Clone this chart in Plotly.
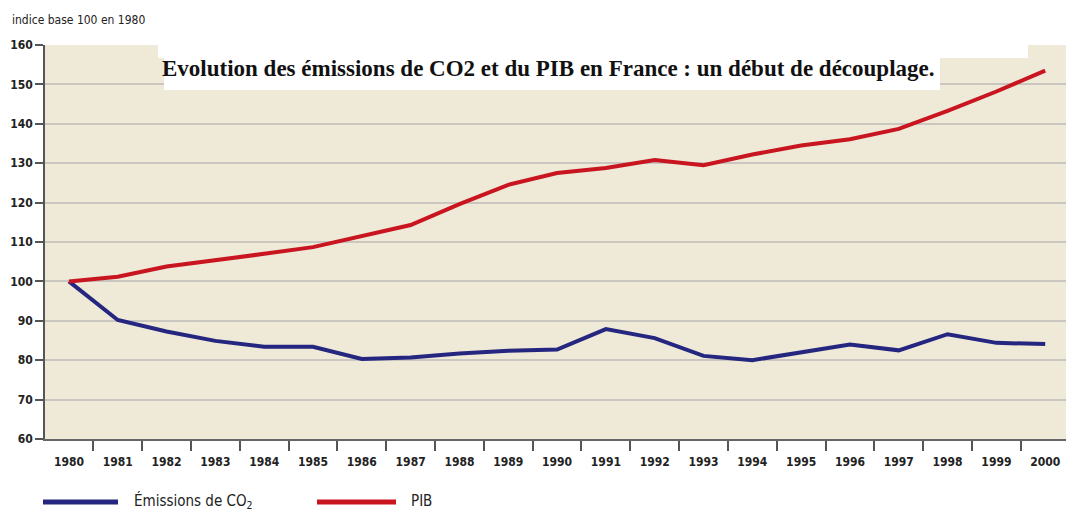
import plotly.graph_objects as go

years = [str(y) for y in range(1980, 2001)]
co2 = [100, 90.2, 87.3, 84.9, 83.4, 83.4, 80.3, 80.7, 81.7, 82.4, 82.7,
       87.9, 85.6, 81.1, 80.0, 81.9, 84.0, 82.5, 86.6, 84.4, 84.1]
pib = [100, 101.2, 103.8, 105.3, 107.0, 108.7, 111.4, 114.3, 119.6, 124.5, 127.5,
       128.8, 130.8, 129.5, 132.2, 134.5, 136.1, 138.7, 143.3, 148.2, 153.5]
y_ticks = [60, 70, 80, 90, 100, 110, 120, 130, 140, 150, 160]

title_text = "Evolution des émissions de CO2 et du PIB en France : un début de découplage."
y_title = "indice base 100 en 1980"
legend_co2 = "Émissions de CO<sub>2</sub>"
legend_pib = "PIB"

BLUE = "#25267F"
RED = "#C8151F"
OFF = 8  # page body margin
W, H = 1074 - OFF, 512 - OFF
# target page pixel positions of plot area
PL, PR, PT, PB = 45, 1074, 45, 439
L, T = PL - OFF, PT - OFF
R = W - (PR - OFF)
B = H - (PB - OFF)
pw, ph = PR - PL, PB - PT

def px(x):
    return (x - PL) / pw

def py(y):
    return (PB - y) / ph

fig = go.Figure()
fig.add_trace(go.Scatter(x=years, y=co2, mode="lines", name="CO2",
                         line=dict(color=BLUE, width=4), showlegend=False))
fig.add_trace(go.Scatter(x=years, y=pib, mode="lines", name="PIB",
                         line=dict(color=RED, width=4), showlegend=False))

FAM = "DejaVu Sans Condensed, Liberation Sans Narrow, sans-serif"
tick_font = dict(family=FAM, size=12, color="#222222", weight="bold")

fig.update_layout(
    width=W, height=H,
    margin=dict(l=L, r=R, t=T, b=B),
    paper_bgcolor="white",
    plot_bgcolor="#EFE9D8",
    showlegend=False,
    xaxis=dict(
        type="category",
        range=[-0.49, 20.59],
        tickson="boundaries",
        ticks="outside", ticklen=10, tickwidth=1.5, tickcolor="#555555",
        ticklabelstandoff=11,
        showgrid=False, zeroline=False,
        showline=True, linecolor="#666666", linewidth=1.5,
        tickfont=tick_font,
    ),
    yaxis=dict(
        range=[60, 160],
        tickvals=y_ticks,
        ticks="outside", ticklen=8, tickwidth=1.5, tickcolor="#555555",
        showgrid=True, gridcolor="#C9C7C0", gridwidth=1.5,
        zeroline=False,
        showline=True, linecolor="#555555", linewidth=1.5,
        tickfont=tick_font,
    ),
    shapes=[
        dict(type="rect", xref="paper", yref="paper",
             x0=px(158), x1=px(1028), y0=py(58), y1=py(44),
             fillcolor="white", line=dict(width=0), layer="above"),
        dict(type="rect", xref="paper", yref="paper",
             x0=px(164), x1=px(940), y0=py(90), y1=py(44),
             fillcolor="white", line=dict(width=0), layer="above"),
        dict(type="line", xref="paper", yref="paper",
             x0=px(43), x1=px(118), y0=py(502), y1=py(502),
             line=dict(color=BLUE, width=5)),
        dict(type="line", xref="paper", yref="paper",
             x0=px(317), x1=px(396), y0=py(502), y1=py(502),
             line=dict(color=RED, width=5)),
    ],
    annotations=[
        dict(text="<b>" + title_text + "</b>", xref="paper", yref="paper",
             x=px(548), y=py(69), xanchor="center", yanchor="middle",
             showarrow=False,
             font=dict(family="Liberation Serif, DejaVu Serif, serif", size=23, color="#111111")),
        dict(text=y_title, xref="paper", yref="paper",
             x=px(10), y=py(20), xanchor="left", yanchor="middle", showarrow=False,
             font=dict(family=FAM, size=12, color="#222222")),
        dict(text=legend_co2, xref="paper", yref="paper",
             x=px(132), y=py(501), xanchor="left", yanchor="middle", showarrow=False,
             font=dict(family=FAM, size=15, color="#222222")),
        dict(text=legend_pib, xref="paper", yref="paper",
             x=px(409), y=py(501), xanchor="left", yanchor="middle", showarrow=False,
             font=dict(family=FAM, size=15, color="#222222")),
    ],
)

fig.write_html("out.html")
